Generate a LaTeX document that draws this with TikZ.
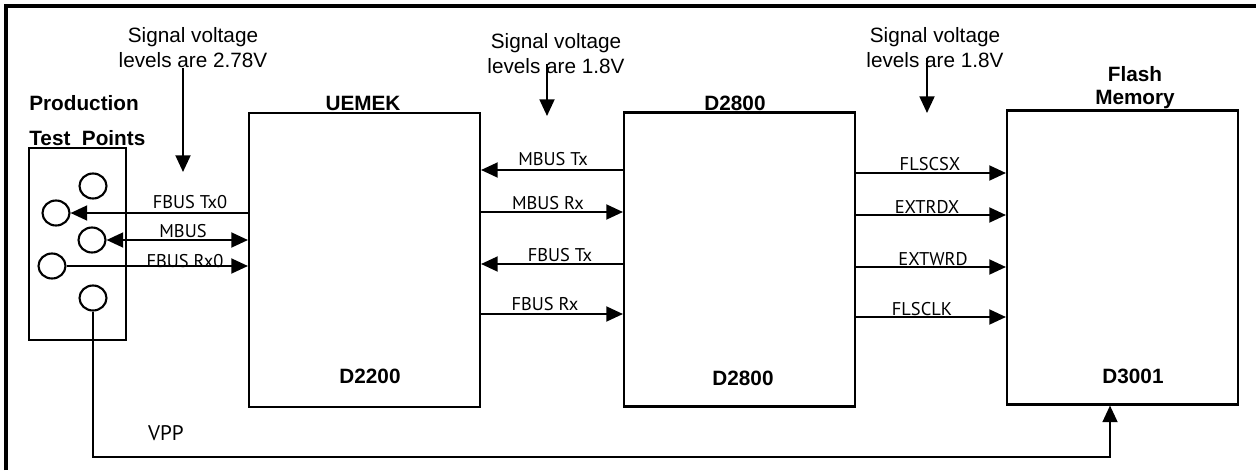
\documentclass[tikz,border=0pt]{standalone}
\usepackage{fontspec}
\setmainfont{Liberation Sans}
\newfontfamily\sigfont{PT Sans}
\usetikzlibrary{shapes.geometric, arrows.meta, positioning}
\tikzset{
  chipbox/.style={draw, line width=1.2pt, inner sep=0pt,
              minimum width=4.62cm, minimum height=5.88cm},
  tpbox/.style={draw, line width=1.2pt, inner sep=0pt,
              minimum width=1.94cm, minimum height=3.84cm},
  tpoint/.style={draw, ellipse, line width=1.2pt, inner sep=0pt,
              minimum width=0.54cm, minimum height=0.5cm},
  sigarr/.style={-{Triangle[length=9.5pt, width=8.5pt]}, line width=1.2pt},
  sigboth/.style={{Triangle[length=9.5pt, width=8.5pt]}-{Triangle[length=9.5pt, width=8.5pt]}, line width=1.2pt},
  siglabel/.style={font=\sigfont\fontsize{10.5}{12}\selectfont, anchor=base, inner sep=0pt},
  chiplabel/.style={font=\bfseries\fontsize{11.8}{13}\selectfont, anchor=base, inner sep=0pt},
  notelabel/.style={font=\fontsize{11.8}{14.2}\selectfont, align=center, inner sep=0pt},
}

\begin{document}
\begin{tikzpicture}[x=0.02cm, y=-0.02cm]
  \useasboundingbox (0,0) rectangle (1256,470);
  \draw[line width=1.8pt] (6,470) -- (6,6) -- (1256,6);

  % chips
  \node[chipbox] (uemek) at (364.5,260)   {};
  \node[chipbox] (d2800) at (739.5,259.5) {};
  \node[chipbox] (flash) at (1122.5,257.5) {};
  \node[chiplabel] (uemekname) at (363,110)  {UEMEK};
  \node[chiplabel] (d2800name) at (735,110)  {D2800};
  \node[chiplabel, align=center, anchor=south] (flashname) at (1135,109) {Flash\\Memory};
  \node[chiplabel] (uemekref) at (370,383) {D2200};
  \node[chiplabel] (d2800ref) at (743,385) {D2800};
  \node[chiplabel] (flashref) at (1133,383) {D3001};

  % test points
  \node[chiplabel, anchor=base west] (prodname) at (29,110) {Production};
  \node[chiplabel, anchor=base west] (tpname)   at (29,145) {Test\ \ Points};
  \node[tpbox]  (tp)  at (77.5,244) {};
  \node[tpoint] (tp1) at (93,186) {};
  \node[tpoint] (tp2) at (56,213) {};
  \node[tpoint] (tp3) at (92,240) {};
  \node[tpoint] (tp4) at (52,266) {};
  \node[tpoint] (tp5) at (93,298) {};

  % voltage notes
  \node[notelabel] (note1) at (193,48) {Signal voltage\\levels are 2.78V};
  \node[notelabel] (note2) at (556,54) {Signal voltage\\levels are 1.8V};
  \node[notelabel] (note3) at (935,48) {Signal voltage\\levels are 1.8V};
  \coordinate (v1) at (183,172);
  \coordinate (v2) at (547,116);
  \coordinate (v3) at (927,113);
  \draw[sigarr] (note1.south -| v1) -- (v1);
  \draw[sigarr] ([yshift=6pt]note2.south -| v2) -- (v2);
  \draw[sigarr] ([yshift=6pt]note3.south -| v3) -- (v3);

  % UEMEK <-> test points
  \draw[sigarr]  (uemek.west |- tp2.east) -- (tp2.east);
  \draw[sigboth] (tp3.east) -- (uemek.west |- tp3.east);
  \draw[sigarr]  (tp4.east) -- (uemek.west |- tp4.east);
  \node[siglabel] (l1) at (190,208) {FBUS Tx0};
  \node[siglabel] (l2) at (183,237) {MBUS};
  \node[siglabel] (l3) at (185,267) {FBUS Rx0};

  % UEMEK <-> D2800
  \draw[sigarr] (d2800.west |- 0,170) -- (uemek.east |- 0,170);
  \draw[sigarr] (uemek.east |- 0,212) -- (d2800.west |- 0,212);
  \draw[sigarr] (d2800.west |- 0,264) -- (uemek.east |- 0,264);
  \draw[sigarr] (uemek.east |- 0,314) -- (d2800.west |- 0,314);
  \node[siglabel] (l4) at (553,165) {MBUS Tx};
  \node[siglabel] (l5) at (548,209) {MBUS Rx};
  \node[siglabel] (l6) at (560,261) {FBUS Tx};
  \node[siglabel] (l7) at (545,310) {FBUS Rx};

  % D2800 -> flash
  \draw[sigarr] (d2800.east |- 0,173) -- (flash.west |- 0,173);
  \draw[sigarr] (d2800.east |- 0,215) -- (flash.west |- 0,215);
  \draw[sigarr] (d2800.east |- 0,267) -- (flash.west |- 0,267);
  \draw[sigarr] (d2800.east |- 0,317) -- (flash.west |- 0,317);
  \node[siglabel] (l8)  at (930,170) {FLSCSX};
  \node[siglabel] (l9)  at (927,213) {EXTRDX};
  \node[siglabel] (l10) at (933,265) {EXTWRD};
  \node[siglabel] (l11) at (922,315) {FLSCLK};

  % VPP
  \coordinate (vppend) at (1110,457);
  \draw[sigarr] (tp5.south) |- (vppend) -- (vppend |- flash.south);
  \node[siglabel, font=\sigfont\fontsize{12}{14}\selectfont] (vpp) at (166,440) {VPP};
\end{tikzpicture}
\end{document}
